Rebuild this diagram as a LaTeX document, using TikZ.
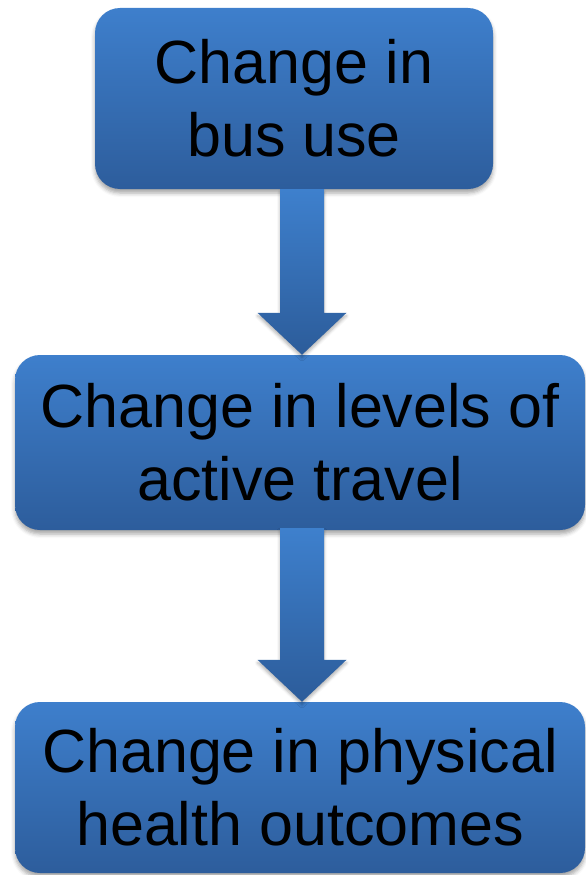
\documentclass[tikz,border=0pt]{standalone}
\usepackage{fontspec}
\setmainfont{Liberation Sans}
\usetikzlibrary{calc,shadows.blur}
\definecolor{boxtop}{RGB}{62,127,204}
\definecolor{boxbot}{RGB}{45,93,156}
\definecolor{arrtop}{RGB}{62,128,205}
\definecolor{arrbot}{RGB}{44,92,154}
\tikzset{
  flowbox/.style={rounded corners=25pt, top color=boxtop, bottom color=boxbot,
    draw=none, font=\fontsize{61pt}{73pt}\selectfont, align=center,
    inner sep=0pt, text=black,
    blur shadow={shadow xshift=0pt, shadow yshift=-4pt, shadow blur radius=4pt, shadow opacity=35}},
  blockarrow/.style={top color=arrtop, bottom color=arrbot, draw=none,
    blur shadow={shadow xshift=0pt, shadow yshift=-3pt, shadow blur radius=3pt, shadow opacity=30}}
}
\begin{document}
\begin{tikzpicture}[x=1pt,y=-1pt]
\useasboundingbox (0,0) rectangle (586,875);
\node[flowbox, minimum width=398pt, minimum height=181pt] (top) at (294,98.5) {Change in\\bus use};
\node[flowbox, minimum width=570pt, minimum height=175pt] (mid) at (300,442.5) {Change in levels of\\active travel};
\node[flowbox, minimum width=570pt, minimum height=171pt] (bot) at (300,787.5) {Change in physical\\health outcomes};
\coordinate (t1) at ($(mid.north)+(2,0)$);
\coordinate (t2) at ($(bot.north)+(2,0)$);
\path[blockarrow] ($(top.south -| t1)+(-22,0)$) -- ($(top.south -| t1)+(22,0)$) -- ($(t1)+(22,-42)$) -- ($(t1)+(44.5,-42)$) -- (t1) -- ($(t1)+(-44.5,-42)$) -- ($(t1)+(-22,-42)$) -- cycle;
\path[blockarrow] ($(mid.south -| t2)+(-22,-2)$) -- ($(mid.south -| t2)+(22,-2)$) -- ($(t2)+(22,-42)$) -- ($(t2)+(44.5,-42)$) -- (t2) -- ($(t2)+(-44.5,-42)$) -- ($(t2)+(-22,-42)$) -- cycle;
\end{tikzpicture}
\end{document}
